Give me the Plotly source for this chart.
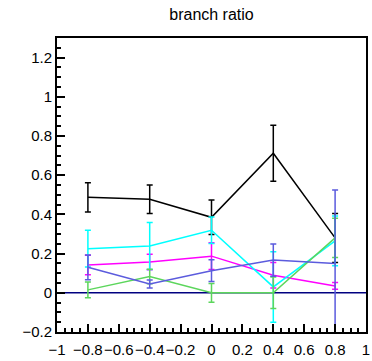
import plotly.graph_objects as go

x_vals = [-0.8, -0.4, 0.0, 0.4, 0.8]

black_y = [0.487, 0.477, 0.385, 0.712, 0.280]
black_err = [0.075, 0.073, 0.088, 0.143, 0.125]

magenta_y = [0.142, 0.157, 0.187, 0.090, 0.035]
magenta_err = [0.050, 0.040, 0.068, 0.065, 0.017]

cyan_y = [0.225, 0.239, 0.319, 0.030, 0.265]
cyan_err = [0.094, 0.120, 0.068, 0.180, 0.127]

green_y = [0.015, 0.083, 0.000, 0.000, 0.280]
green_err = [0.040, 0.037, 0.048, 0.080, 0.100]

blue_y = [0.130, 0.045, 0.113, 0.167, 0.149]
blue_err = [0.063, 0.020, 0.055, 0.082, 0.375]

series = [
    (black_y, black_err, "#000000"),
    (magenta_y, magenta_err, "#ff00ff"),
    (cyan_y, cyan_err, "#00ffff"),
    (green_y, green_err, "#5cd65c"),
    (blue_y, blue_err, "#5b5bdd"),
]

fig = go.Figure()
fig.add_hline(y=0, line=dict(color="#000080", width=1.5), layer="below")

for ys, errs, col in series:
    fig.add_trace(go.Scatter(
        x=x_vals, y=ys, mode="lines",
        line=dict(color=col, width=1.5),
        error_y=dict(type="data", array=errs, visible=True, color=col,
                     thickness=1.5, width=3),
        showlegend=False, hoverinfo="skip",
    ))

axis_common = dict(
    showgrid=False, zeroline=False, showline=True, linecolor="black",
    linewidth=2, mirror=True, ticks="inside", ticklen=8, tickwidth=1.5,
    tickcolor="black", dtick=0.2, tick0=0, automargin=False, tickangle=0,
    tickfont=dict(family="Liberation Sans, Arial, sans-serif", size=15, color="black"),
    minor=dict(ticks="inside", ticklen=4, dtick=0.05, tickwidth=1.5, tickcolor="black"),
)

fig.update_layout(
    width=372, height=361,
    margin=dict(l=57, r=6, t=38, b=29),
    paper_bgcolor="white", plot_bgcolor="white",
    title=dict(text="branch ratio", x=(57 + 366) / 2 / 372, xanchor="center",
               y=1 - 14 / 361, yanchor="middle",
               font=dict(family="Liberation Sans, Arial, sans-serif", size=16, color="black")),
    xaxis=dict(range=[-1, 1], ticklabelstandoff=3, **axis_common),
    yaxis=dict(range=[-0.2, 1.3], **axis_common),
)

fig.write_html("out.html", config={"displayModeBar": False},
               post_script="document.body.style.margin='0';document.body.style.overflow='hidden';")
